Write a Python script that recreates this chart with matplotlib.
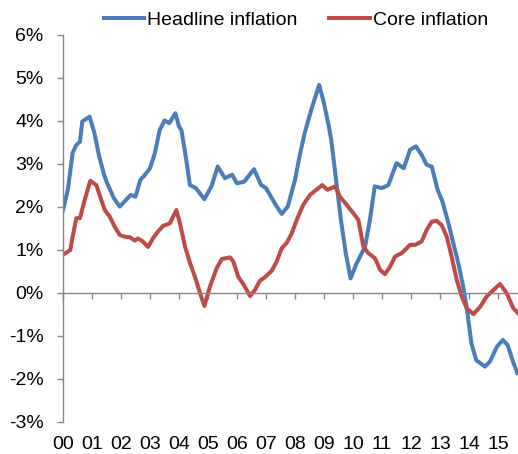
import numpy as np
import matplotlib
matplotlib.use("Agg")
import matplotlib.pyplot as plt
from matplotlib.ticker import FuncFormatter

# months since Jan 2000
headline_months = [0, 2, 4, 5.5, 7, 8, 11, 13, 15, 17, 18, 21, 22, 23.5, 25.5, 28, 30, 32,
                   33.5, 36, 38, 40, 42, 44, 46.5, 48, 49, 51, 52.5, 55, 58.5, 61.5, 64, 67,
                   70, 72, 75, 79, 82, 84, 88, 90.5, 93, 96, 98, 100, 103, 106, 108, 110,
                   111, 113, 115, 117, 119, 121.5, 125, 127, 129, 132, 134.6, 138, 141,
                   143.6, 146, 148.4, 150.5, 152.6, 155, 157, 159.5, 161.5, 163.6, 165.6,
                   167, 169, 171, 174.6, 176.7, 179.5, 182, 184, 186, 188]
headline = [1.92, 2.39, 3.25, 3.43, 3.51, 3.98, 4.09, 3.71, 3.16, 2.74, 2.58, 2.20, 2.12,
            2.00, 2.12, 2.27, 2.23, 2.62, 2.71, 2.89, 3.24, 3.78, 4.00, 3.94, 4.17, 3.86,
            3.78, 3.09, 2.50, 2.43, 2.17, 2.48, 2.93, 2.66, 2.74, 2.54, 2.58, 2.87, 2.50,
            2.43, 2.04, 1.83, 2.00, 2.62, 3.20, 3.71, 4.30, 4.83, 4.40, 3.86, 3.55, 2.62,
            1.69, 0.92, 0.33, 0.68, 1.07, 1.69, 2.47, 2.43, 2.50, 3.01, 2.89, 3.32, 3.40,
            3.20, 2.97, 2.93, 2.39, 2.12, 1.61, 1.15, 0.68, 0.14, -0.33, -1.18, -1.57,
            -1.72, -1.60, -1.26, -1.10, -1.22, -1.57, -1.87]

core_months = [0, 3, 4, 5.5, 7, 9, 11.3, 13.8, 15.8, 17.3, 19.3, 21.4, 23.5, 25.5, 27.6,
               29.7, 31, 33, 35.2, 37.2, 39.3, 41.4, 44.2, 46.9, 48.4, 50.5, 52.6, 54.6,
               56.7, 58.5, 60.8, 63.6, 65.7, 69.1, 70.5, 72.5, 74.6, 77.4, 79.4, 81.5, 83.6,
               86.4, 88.4, 90.5, 92.6, 94.6, 96.7, 99.4, 102.2, 105, 107.3, 109.4, 112.6,
               114.6, 117.4, 120.1, 122.2, 124.3, 126.3, 129.1, 131.2, 133.2, 135.3, 137.4,
               140.2, 143.6, 145.7, 148.4, 150.5, 152.6, 154.6, 156.7, 158.8, 160.8, 162.9,
               165, 167, 169.8, 172.6, 175.3, 178.1, 180.8, 183.6, 186.3, 188.3]
core = [0.88, 0.99, 1.30, 1.73, 1.73, 2.16, 2.60, 2.50, 2.16, 1.92, 1.77, 1.53, 1.34, 1.30,
        1.29, 1.21, 1.26, 1.19, 1.06, 1.26, 1.42, 1.55, 1.61, 1.92, 1.61, 1.07, 0.68, 0.37,
        -0.01, -0.31, 0.14, 0.57, 0.78, 0.82, 0.72, 0.37, 0.20, -0.08, 0.06, 0.28, 0.36,
        0.51, 0.72, 1.03, 1.16, 1.37, 1.69, 2.04, 2.27, 2.40, 2.50, 2.39, 2.47, 2.23, 2.04,
        1.85, 1.69, 1.07, 0.92, 0.80, 0.53, 0.43, 0.60, 0.84, 0.92, 1.11, 1.11, 1.19, 1.46,
        1.65, 1.67, 1.57, 1.30, 0.84, 0.30, -0.09, -0.36, -0.50, -0.33, -0.09, 0.06, 0.20,
        -0.01, -0.36, -0.48]

year_labels = ["00", "01", "02", "03", "04", "05", "06", "07", "08",
               "09", "10", "11", "12", "13", "14", "15"]

BLUE = "#4A7EBB"
RED = "#BE4B48"
GRAY = "#868686"

plt.rcParams["font.family"] = ["Liberation Sans", "DejaVu Sans"]

fig = plt.figure(figsize=(5.18, 4.54), dpi=100)
ax = fig.add_axes([63 / 518, (454 - 421.7) / 454, 1 - 63 / 518, (421.7 - 34.5) / 454])

hx = np.array(headline_months) / 12
cx = np.array(core_months) / 12
ax.plot(hx, headline, color=BLUE, lw=2.9, label="Headline inflation", solid_joinstyle="round")
ax.plot(cx, core, color=RED, lw=2.9, label="Core inflation", solid_joinstyle="round")

ax.set_xlim(0, 455 / 29)
ax.set_ylim(-3, 6)
ax.set_yticks(range(-3, 7))
ax.yaxis.set_major_formatter(FuncFormatter(lambda v, p: f"{int(v)}%"))

for s in ["top", "right"]:
    ax.spines[s].set_visible(False)
ax.spines["left"].set_color(GRAY)
ax.spines["bottom"].set_color(GRAY)
ax.spines["left"].set_linewidth(1)
ax.spines["bottom"].set_linewidth(1)
ax.spines["bottom"].set_position(("data", 0))

ax.set_xticks(range(len(year_labels)))
ax.set_xticklabels([])
ax.tick_params(axis="x", direction="out", length=4, color=GRAY, width=1)
ax.tick_params(axis="y", direction="out", length=4, color=GRAY, width=1,
               labelsize=14, pad=10)

for i, lab in enumerate(year_labels):
    ax.text(i, -0.038, lab, transform=ax.get_xaxis_transform(), ha="center", va="top",
            fontsize=14)

fig.legend(loc="center", bbox_to_anchor=(0.571, 0.956), ncol=2, frameon=False,
           fontsize=14, handlelength=2.1, handletextpad=0.15, columnspacing=1.6)

fig.savefig("out.png", dpi=100)
